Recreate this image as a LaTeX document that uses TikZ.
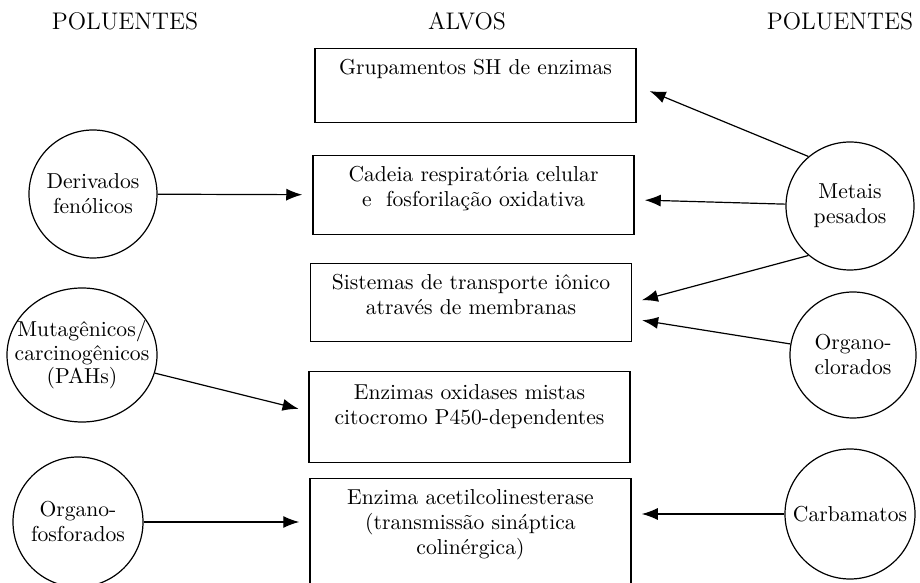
\documentclass[tikz,border=0pt]{standalone}
\usepackage{fontspec}
\usepackage{tikz}
\usetikzlibrary{arrows.meta,shapes.geometric}

\begin{document}
\begin{tikzpicture}[x=25pt, y=25pt, every node/.style={circle, draw=black, line width=0.6pt, minimum size=64pt, inner sep=0pt, align=center, font=\fontsize{10.8}{12.5}\selectfont}]
	
	\tikzset{edge/.style = {->, > = {Latex[length=8pt,width=6pt]}, line width=0.6pt, shorten > = 5pt}}
	\tikzset{alvo/.style = {rectangle, minimum size=0pt, line width=0.75pt, text width=150pt, inner xsep=5.25pt, text height=13pt, anchor=north}}
	
	\useasboundingbox (0,0) rectangle (18.4,11.66);
	
	\node[draw=none, minimum size=0pt, font=\fontsize{12}{14}\selectfont] (12) at (2.5,11.24) {POLUENTES};
	\node[draw=none, minimum size=0pt, font=\fontsize{12}{14}\selectfont] (13) at (9.34,11.24) {ALVOS};
	\node[draw=none, minimum size=0pt, font=\fontsize{12}{14}\selectfont] (14) at (16.8,11.24) {POLUENTES};
	
	\node[alvo, text depth=24pt] (1) at (9.51,10.70) {Grupamentos SH de enzimas};
	\node[alvo, text depth=26.5pt] (2) at (9.47,8.56) {Cadeia respiratória celular\\e~ fosforilação oxidativa};
	\node[alvo, text depth=26pt] (3) at (9.42,6.40) {Sistemas de transporte iônico\\através de membranas};
	\node[alvo, text height=14pt, text depth=31.5pt] (4) at (9.39,4.24) {Enzimas oxidases mistas\\citocromo P450-dependentes};
	\node[alvo, text depth=50pt] (5) at (9.41,2.10) {Enzima acetilcolinesterase\\(transmissão sináptica\\colinérgica)};
	
	\node (6) at (1.86,7.78) {Derivados\\fenólicos};
	\node[ellipse, minimum width=75pt, minimum height=67pt, inner xsep=-8pt, font=\fontsize{10.8}{11.75}\selectfont] (7) at (1.64,4.56) {Mutagênicos/\\carcinogênicos\\(PAHs)};
	\node[minimum size=65pt] (8) at (1.56,1.22) {Organo-\\fosforados};
	
	\node (9) at (17.00,7.54) {Metais\\pesados};
	\node[minimum size=63pt] (10) at (17.06,4.56) {Organo-\\clorados};
	\node[minimum size=65pt] (11) at (17.00,1.38) {Carbamatos};
	
	\coordinate (3b) at ([yshift=-8pt]3.east);
	\coordinate (4b) at ([yshift=3pt]4.west);
	
	\foreach \source/\dest in {6/2, 7/4b, 9/2, 9.230/3.east, 10.170/3b}
	\draw[edge] (\source) to (\dest);
	\draw[edge, shorten > = 7pt] (9.130) to (1.east);
	\draw[edge] (8) to (8 -| 5.west);
	\draw[edge] (11) to (11 -| 5.east);
	
\end{tikzpicture}
\end{document}
